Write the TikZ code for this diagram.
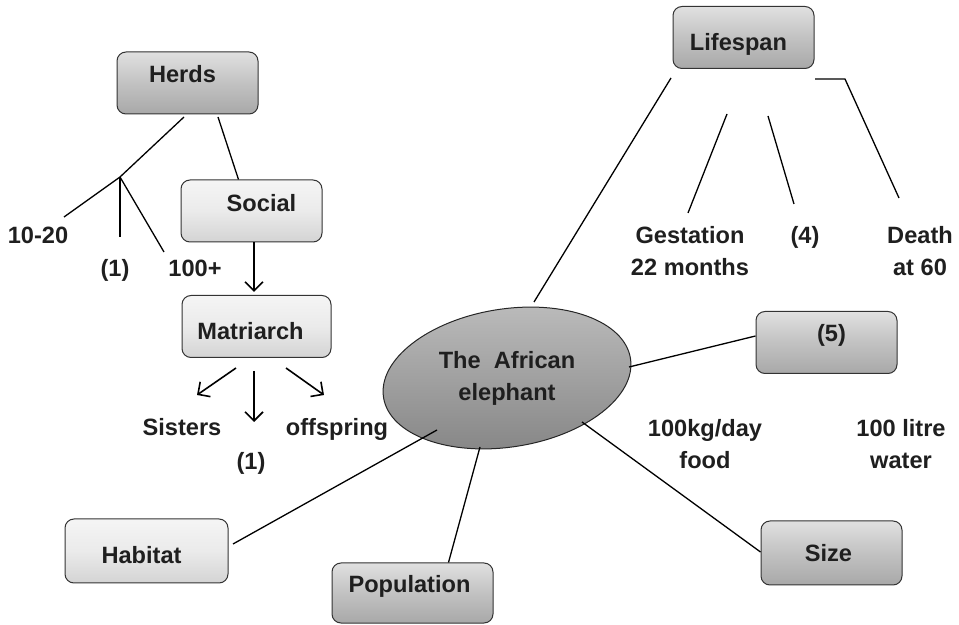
\documentclass[tikz,border=0pt]{standalone}
\usepackage{fontspec}
\setmainfont{Liberation Sans}
\usetikzlibrary{shapes.geometric,arrows.meta}
\tikzset{
	every node/.style={font=\fontsize{11.8}{16}\selectfont\bfseries, text=black!88},
	lbl/.style={text height=8.45pt, text depth=0pt, inner sep=0pt},
	box/.style={draw=black!80, line width=0.5pt, rounded corners=4.5pt, minimum width=70.5pt, minimum height=31pt, inner sep=0pt},
	darkbox/.style={box, top color=black!12, bottom color=black!34, middle color=black!24},
	lightbox/.style={box, top color=black!4, bottom color=black!17, middle color=black!8},
	oval/.style={ellipse, draw=black!85, line width=0.5pt, minimum width=125pt, minimum height=69pt, inner sep=0pt, top color=black!26, bottom color=black!48, middle color=black!37},
	link/.style={line width=0.65pt},
	pointer/.style={line width=0.8pt, -{Straight Barb[length=4.5pt,width=9pt]}}
}
\begin{document}
\begin{tikzpicture}[x=0.5pt, y=-0.5pt]
		\useasboundingbox (0,0) rectangle (959,625);

		\node [darkbox, label={[lbl, shift={(-5,-8.5)}]center:Herds}] (herds) at (187.5,83) {};
		\node [lightbox, label={[lbl, shift={(10,-8)}]center:Social}] (social) at (251.5,211) {};
		\node [lightbox, minimum width=74.5pt, label={[lbl, shift={(-6,4.5)}]center:Matriarch}] (matri) at (256.5,326.5) {};
		\node [darkbox, label={[lbl, shift={(-5,5)}]center:Lifespan}] (life) at (743.5,37.5) {};
		\node [darkbox, label={[lbl, shift={(5,-9.5)}]center:(5)}] (five) at (826.5,342.5) {};
		\node [lightbox, minimum width=81.5pt, minimum height=32pt, label={[lbl, shift={(-5,4)}]center:Habitat}] (habitat) at (146.5,551) {};
		\node [darkbox, minimum width=80.5pt, minimum height=30pt, label={[lbl, shift={(-3,-9)}]center:Population}] (popul) at (412.5,593) {};
		\node [darkbox, minimum height=32pt, label={[lbl, shift={(-3,0)}]center:Size}] (size) at (831.5,553) {};

		\node [oval, rotate=9] (eleph) at (507,378) {};
		\node [align=center] (elephtext) at (eleph.center) {The~~African\\elephant};

		\node [lbl] (tentwenty) at (38,235) {10-20};
		\node [lbl] (oneleft) at (115,268) {(1)};
		\node [lbl] (hundred) at (195,268) {100+};
		\node [lbl] (sisters) at (182,427) {Sisters};
		\node [lbl] (onemid) at (251,461) {(1)};
		\node [lbl] (offspring) at (337,427) {offspring};
		\node [align=center] (gestation) at (690,251) {Gestation\\22 months};
		\node [lbl] (four) at (805,235) {(4)};
		\node [align=center] (death) at (920,251) {Death\\at 60};
		\node [align=center] (food) at (705,444) {100kg/day\\food};
		\node [align=center] (water) at (901,444) {100 litre\\water};

		\coordinate (h_0) at (184,117);
		\coordinate (h_j) at (120,177);
		\coordinate (h_1) at (64,217);
		\coordinate (h_2) at (120,237);
		\coordinate (h_3) at (164,252);
		\coordinate (h_s) at (218,117);
		\draw [link] (h_0)--(h_j)--(h_1);
		\draw [link] (h_j)--(h_2);
		\draw [link] (h_j)--(h_3);
		\draw [link] (h_s)--([xshift=29pt]social.north west);
		\draw [pointer] ([xshift=1.25pt]social.south)--([xshift=-1.25pt,yshift=1.5pt]matri.north);

		\coordinate (m_1) at (236,368);
		\coordinate (m_2) at (254,371);
		\coordinate (m_3) at (286,368);
		\coordinate (s_1) at (197,395);
		\coordinate (s_2) at (254,422);
		\coordinate (s_3) at (324,395);
		\draw [pointer] (m_1)--(s_1);
		\draw [pointer] (m_2)--(s_2);
		\draw [pointer] (m_3)--(s_3);

		\coordinate (l_0) at (671,78);
		\coordinate (l_e) at (534,302);
		\coordinate (l_1) at (727,114);
		\coordinate (g_1) at (688,213);
		\coordinate (l_2) at (768,116);
		\coordinate (g_2) at (794,204);
		\coordinate (l_3) at (815,79);
		\coordinate (l_k) at (845,79);
		\coordinate (g_3) at (899,198);
		\draw [link] (l_0)--(l_e);
		\draw [link] (l_1)--(g_1);
		\draw [link] (l_2)--(g_2);
		\draw [link] (l_3)--(l_k)--(g_3);

		\coordinate (e_f) at (629,367);
		\coordinate (e_s) at (582,422);
		\coordinate (e_p) at (480,447);
		\coordinate (e_h) at (437,430);
		\coordinate (h_e) at (233,544);
		\draw [link] (e_f)--([yshift=3.25pt]five.west);
		\draw [link] (e_s)--([yshift=0.5pt]size.west);
		\draw [link] (e_p)--([xshift=58.5pt]popul.north west);
		\draw [link] (e_h)--(h_e);

	\end{tikzpicture}
\end{document}
